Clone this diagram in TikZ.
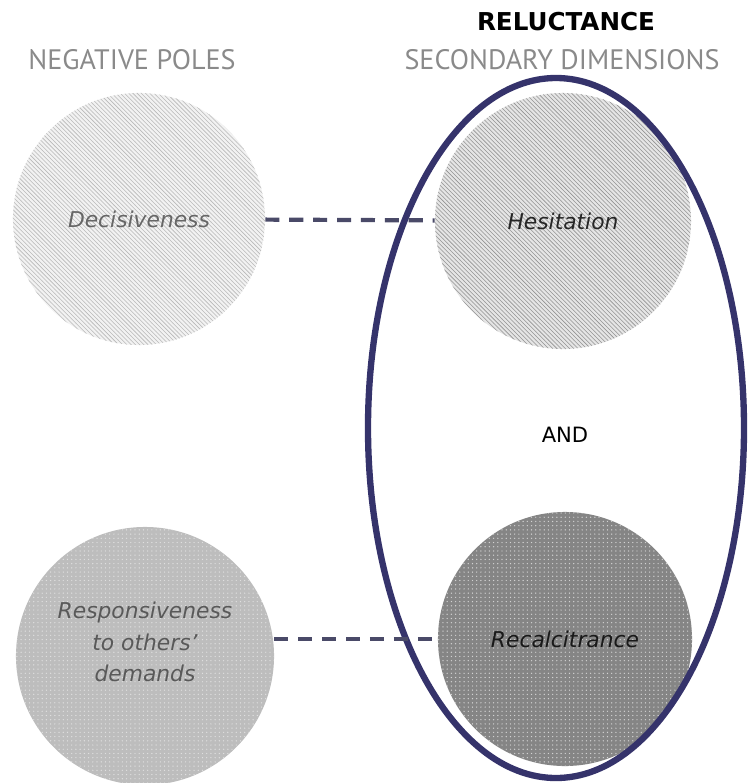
\documentclass[tikz,border=0pt]{standalone}
\usepackage{fontspec}
\setmainfont{PT Sans}
\newfontfamily\circfont{DejaVu Sans}
\usetikzlibrary{patterns}
\definecolor{navy}{HTML}{35336B}
\definecolor{dashcol}{HTML}{4A4A68}
\definecolor{headgray}{HTML}{8A8A8A}
\tikzset{
    pole/.style={circle, inner sep=0pt, align=center,
        font=\circfont\fontsize{15.5}{22.5}\selectfont\itshape},
    link/.style={dashcol, line width=3pt, dash pattern=on 10pt off 7pt}
}
\begin{document}
\begin{tikzpicture}[x=0.025cm, y=-0.025cm]
    \useasboundingbox (0,0) rectangle (750,783);

    % the titles
    \node[font=\circfont\fontsize{17.5}{20}\selectfont\bfseries] (title) at (566,22) {RELUCTANCE};
    \node[text=headgray, font=\fontsize{20}{22}\selectfont] (neg) at (132,60) {NEGATIVE POLES};
    \node[text=headgray, font=\fontsize{20}{22}\selectfont] (sec) at (562,60) {SECONDARY DIMENSIONS};

    % the poles (circles with a texture)
    \node[pole, minimum size=6.3cm,
          preaction={fill=gray!10}, pattern=north west lines, pattern color=gray!55,
          text=black!60] (dec) at (139,219) {Decisiveness};
    \node[pole, minimum size=6.4cm,
          preaction={fill=gray!20}, pattern=north west lines, pattern color=gray!85,
          text=black!85] (hes) at (563,221) {Hesitation};
    \node[pole, minimum size=6.45cm,
          preaction={fill=black!26}, pattern=dots, pattern color=white!75!gray] (resp) at (145,656) {};
    \node[pole, minimum size=6.35cm,
          preaction={fill=black!48}, pattern=dots, pattern color=gray!35,
          text=black!90] (recal) at (565,639) {Recalcitrance};

    % the text of the lower pole sits a bit above its centre
    \node[pole, text=black!65] (resptext) at (145,642) {Responsiveness\\ to others’\\ demands};

    \node[font=\circfont\fontsize{15}{18}\selectfont] (and) at (565,435) {AND};

    % the frame round the secondary dimensions
    \draw[navy, line width=4.5pt] (556,428) ellipse (188 and 350);

    % draw the dashed links
    \draw[link] (dec) -- (hes);
    \draw[link] (resp.east |- recal) -- (recal);

\end{tikzpicture}
\end{document}
